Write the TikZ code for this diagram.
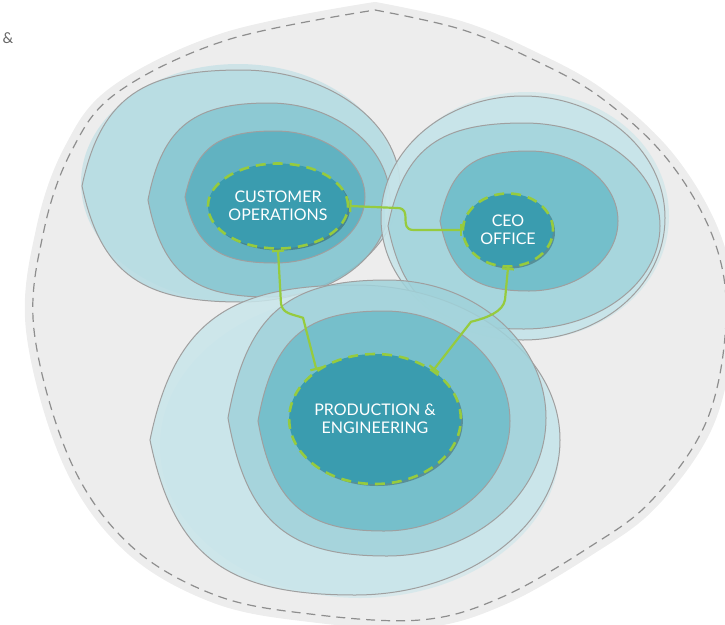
\documentclass[tikz,border=0pt]{standalone}
\usepackage{fontspec}
\setmainfont{Lato}
\usetikzlibrary{shapes.geometric,arrows.meta,shadows}

\definecolor{paper}{HTML}{EDEDED}
\definecolor{rim}{HTML}{8E8E8E}
\definecolor{custA}{HTML}{B6DCE3}
\definecolor{custB}{HTML}{86C6D1}
\definecolor{custC}{HTML}{5AAFBF}
\definecolor{ceoA}{HTML}{C6E4E9}
\definecolor{ceoB}{HTML}{A2D4DC}
\definecolor{ceoC}{HTML}{6CBBC8}
\definecolor{prodA}{HTML}{C8E5EA}
\definecolor{prodB}{HTML}{A0D2DA}
\definecolor{prodC}{HTML}{6EBCC9}
\definecolor{core}{HTML}{3A9CAF}
\definecolor{leaf}{HTML}{96CB3E}

% lobe: a ring that is a little pointed on its left side
% #2,#3 = centre, #4 = half width, #5 = half height
\newcommand\lobe[5][]{%
  \draw[#1] ({#2-#4},#3) .. controls +({0.12*#4},{-0.78*#5}) and +({-0.6*#4},0) .. (#2,{#3-#5})
    .. controls +({0.55*#4},0) and +(0,{-0.55*#5}) .. ({#2+#4},#3)
    .. controls +(0,{0.55*#5}) and +({0.55*#4},0) .. (#2,{#3+#5})
    .. controls +({-0.6*#4},0) and +({0.12*#4},{0.78*#5}) .. cycle;}

\tikzset{
  ring/.style={draw=rim!85, line width=1pt, fill opacity=.85},
  halo/.style={fill opacity=.55, draw=none},
  unit/.style={ellipse, draw=leaf, line width=2.6pt, dash pattern=on 10pt off 7pt,
    fill=core, text=white, align=center, font=\fontsize{16}{18.5}\selectfont, inner sep=0pt,
    drop shadow={shadow xshift=2pt, shadow yshift=-2pt, opacity=.25, fill=black}},
  link/.style={leaf, line width=2.2pt, line join=round,
    {Bar[width=12pt]}-{Bar[width=12pt]}}
}

\begin{document}
\begin{tikzpicture}[x=1pt, y=-1pt]
        \useasboundingbox (0,0) rectangle (725,624);
        \begin{scope}
                \clip (0,0) rectangle (725,624);
                % the field all three sit in
                \def\field{plot[smooth, tension=.6] coordinates {(375,10) (460,29) (530,58) (600,97) (668,160)
                        (714,240) (726,320) (707,420) (652,500) (588,548) (500,598) (420,620) (310,614)
                        (215,595) (130,545) (70,460) (34,330) (44,230) (72,150) (118,92) (227,40) (375,10)}}
                \fill[paper, draw=paper, line width=16pt, line join=round] \field -- cycle;
                \draw[rim, line width=1.2pt, dash pattern=on 9pt off 6pt] \field -- cycle;
        \end{scope}
        \node[text=black!60, font=\fontsize{15}{17}\selectfont] (amp) at (8,38) {\&};

        % customer operations
        \fill[halo, custA] (238,183) ellipse [x radius=157, y radius=119];
        \lobe[ring, fill=custA]{241}{186}{159}{116}
        \lobe[ring, fill=custB]{269}{200}{121}{97}
        \lobe[ring, fill=custC]{275}{197}{90}{66}

        % ceo office
        \fill[halo, ceoA] (527,216) ellipse [x radius=142, y radius=124];
        \draw[ring, fill=ceoA] (523,218) ellipse [x radius=142, y radius=122];
        \lobe[ring, fill=ceoB]{524}{226}{136}{103}
        \lobe[ring, fill=ceoC]{529}{221}{89}{70}

        % production & engineering
        \fill[halo, prodA] (360,446) ellipse [x radius=200, y radius=152];
        \lobe[ring, fill=prodA]{355}{440}{205}{155}
        \lobe[ring, fill=prodB]{387}{418}{159}{138}
        \lobe[ring, fill=prodC]{384}{421}{126}{110}

        \begin{scope}[every node/.style={unit}]
                \node[minimum width=135pt, minimum height=85pt] (cust) at (278,206) {CUSTOMER\\OPERATIONS};
                \node[minimum width=90pt, minimum height=73pt] (ceo) at (508,230) {CEO\\OFFICE};
                \node[minimum width=157pt, minimum height=130pt] (prod) at (375,419) {PRODUCTION \&\\ENGINEERING};
        \end{scope}

        \draw[link] (cust.east) -- ++(48,2) .. controls +(16,0) and +(-16,0) .. ([xshift=-48pt]ceo.west) -- (ceo.west);
        \draw[link] (cust.south) -- ++(3,54) .. controls +(2,10) and +(-12,-4) .. ++(22,14) -- (prod.140);
        \draw[link] (ceo.south) -- ++(-3,32) .. controls +(-2,12) and +(16,-4) .. ++(-34,22) -- (prod.40);
\end{tikzpicture}
\end{document}
